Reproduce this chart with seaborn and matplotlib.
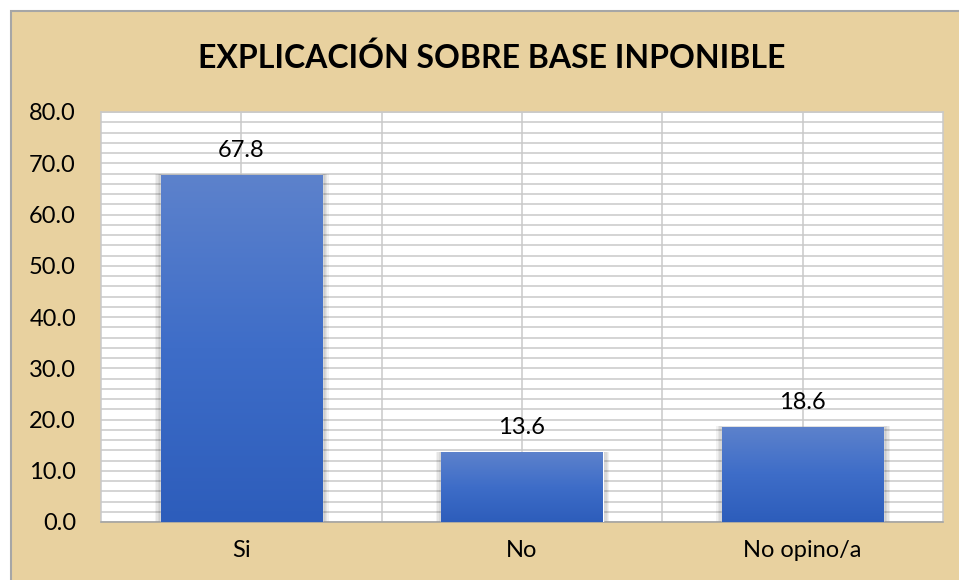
import matplotlib.pyplot as plt
import matplotlib.patches as mpatches
import numpy as np
import pandas as pd
import seaborn as sns

# Data
categories = ['Si', 'No', 'No opino/a']
values = [67.8, 13.6, 18.6]
y_ticks = [0, 10, 20, 30, 40, 50, 60, 70, 80]
title = 'EXPLICACIÓN SOBRE BASE INPONIBLE'

df = pd.DataFrame({'Respuesta': categories, 'Porcentaje': values})

sns.set_theme(style="white")
plt.rcParams['font.family'] = ['Lato', 'DejaVu Sans']

paper = '#E8D19F'
grid_col = '#C9C9C9'

fig = plt.figure(figsize=(9.59, 5.8), dpi=100)
fig.patch.set_facecolor('white')

# parchment chart area with thin gray border (cut off at right and bottom like the reference)
bg = mpatches.Rectangle((11 / 959, -0.05), 1.1, 1.05 - 11 / 580, transform=fig.transFigure,
                        facecolor=paper, edgecolor='#A6A6A6', linewidth=1.5, zorder=-10)
fig.patches.append(bg)

ax = fig.add_axes([101 / 959, 1 - 522 / 580, (943 - 101) / 959, (522 - 112) / 580])
ax.set_facecolor('white')

sns.barplot(data=df, x='Respuesta', y='Porcentaje', color='#4472C4', width=0.575,
            saturation=1, ax=ax, zorder=3)

ax.set_ylim(0, 80)
ax.set_xlim(-0.5, len(categories) - 0.5)
ax.set_yticks(y_ticks)
ax.set_yticklabels([f'{v:.1f}' for v in y_ticks])
ax.set_yticks(np.arange(0, 81, 2), minor=True)
ax.set_xticks(np.arange(0.5, len(categories) - 0.5, 1), minor=True)

ax.grid(True, which='both', axis='both', color=grid_col, linewidth=1.1, zorder=0)
ax.set_axisbelow(True)
ax.tick_params(which='both', length=0)
ax.tick_params(axis='y', labelsize=17, pad=18, colors='black')
ax.tick_params(axis='x', labelsize=17, pad=13, colors='black')
ax.set_xlabel('')
ax.set_ylabel('')
for s in ax.spines.values():
    s.set_color(grid_col)
    s.set_linewidth(1.1)
ax.spines['bottom'].set_color('#A0A0A0')

# gradient fill + soft shadow for each bar
grad = np.linspace(0, 1, 256).reshape(-1, 1)
cmap = sns.blend_palette(['#2D5DBB', '#3E6DC8', '#5D82CC'], as_cmap=True)
for p in list(ax.patches):
    x0, y0 = p.get_x(), p.get_y()
    w, h = p.get_width(), p.get_height()
    for i, a in enumerate([0.05, 0.05, 0.05, 0.05]):
        d = (i + 1) * 0.005
        sh = mpatches.Rectangle((x0 - d, y0), w + 2 * d + 0.004, h + d * 4,
                                facecolor='black', alpha=a, edgecolor='none', zorder=2)
        ax.add_patch(sh)
    im = ax.imshow(grad, extent=(x0, x0 + w, y0, y0 + h), origin='lower', cmap=cmap,
                   aspect='auto', zorder=4)
    im.set_clip_path(p)

ax.set_aspect('auto')
ax.set_xlim(-0.5, len(categories) - 0.5)
ax.set_ylim(0, 80)

ax.bar_label(ax.containers[0], labels=[f'{v:.1f}' for v in values], padding=10,
             fontsize=17, color='black')

fig.text(492 / 959, 1 - 58 / 580, title, ha='center', va='center', fontsize=23,
         fontweight='bold', color='black')

plt.savefig('out.png', dpi=100, facecolor=fig.get_facecolor())
